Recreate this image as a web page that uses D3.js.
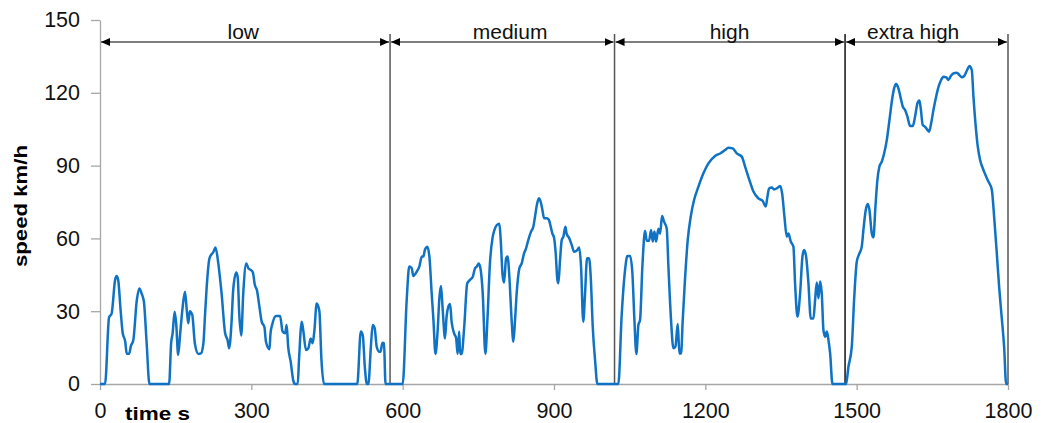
<!DOCTYPE html>
<html>
<head>
<meta charset="utf-8">
<script src="https://cdn.jsdelivr.net/npm/d3@7"></script>
<style>
  html, body { margin: 0; padding: 0; background: #fff; }
  svg { display: block; font-family: "Liberation Sans", Arial, sans-serif; }
</style>
</head>
<body>
<div id="chart"></div>
<script>
// WLTC class 3 speed trace

const timeS = [
    0, 10, 18, 23, 30, 33, 36, 41, 45, 50, 53, 58, 61, 66, 73, 78, 83, 87, 92.5, 98,
    137, 141, 144, 148, 151, 155, 159, 164, 168.5, 172, 175, 178, 183, 188, 195, 200, 205, 208, 211.5, 217,
    225, 229, 234.5, 241, 248, 253, 256, 261, 264, 270, 273, 276, 280, 284, 290, 294, 299, 303, 307, 311,
    316, 320.5, 326, 329, 336, 338, 342, 349, 357, 362, 367, 370, 373, 378, 383, 386.5, 392, 394.5, 400, 403,
    408.4, 413, 417.6, 421.6, 425, 429.5, 434.8, 439, 444, 510, 517, 521, 525, 529, 532, 537, 540.5, 544.5, 548.5, 554,
    556, 560, 563, 566, 600,
    // medium
    608, 613, 618, 621, 628, 633, 638, 641, 644, 649, 653, 657.5, 661, 665, 669, 673, 676, 679, 684, 687,
    690.6, 694, 697, 702, 706, 709, 712, 714, 717, 722, 728, 733.5, 739, 743.5, 747, 751, 754.7, 758.7, 764, 768,
    773, 778, 782, 786.5, 791.7, 794.4, 798, 801, 805, 808, 811.5, 816, 819.5, 822.8, 826, 831.4, 836, 840.6, 844.6, 849,
    854.5, 859, 862.4, 865.7, 870, 873.7, 877, 880.3, 885.6, 890, 893.5, 896.8, 900, 903.4, 906.7, 908.7, 912, 915.3, 918.6, 922.6,
    925, 930.5, 935.1, 939.8, 946, 950, 953.6, 958, 961.6, 965.5, 969.5, 972.8, 976.8, 981.4, 986, 1027.6,
    // high
    1034, 1040.9, 1045.5, 1050.8, 1055.4, 1059.4, 1063.3, 1067.3, 1070.6, 1075.2, 1080.5, 1083.8, 1088.4, 1092.4, 1095.7, 1099, 1102.3, 1107, 1110.3, 1114.2,
    1118.2, 1123.5, 1126.8, 1132, 1136.7, 1140.7, 1145.3, 1148.6, 1151.9, 1155.2, 1159.8, 1165.1, 1171.1, 1177.7, 1186.3, 1196.2, 1206.1, 1219.3, 1229.2, 1239.1,
    1245.7, 1254.3, 1262.3, 1272.2, 1278.8, 1287.4, 1295.3, 1305.2, 1313.8, 1319.8, 1323.1, 1326.4, 1331.7, 1336.3, 1341.6, 1348.2, 1352.2, 1356.8, 1361.4, 1364.7,
    1369.4, 1374.6, 1377.9, 1382.6, 1387.9, 1392.5, 1395.8, 1399.8, 1404.4, 1409, 1414.3, 1417.6, 1420.9, 1424.2, 1427.5, 1430.8, 1434.1, 1437.4, 1440.8, 1444.1,
    1447.4, 1452, 1479,
    // extra high
    1483.6, 1490.3, 1494.9, 1500.2, 1505.5, 1510.1, 1513.4, 1518, 1522, 1525.3, 1530, 1533.2, 1537.2, 1541.1, 1545.1, 1549.7, 1554.4, 1559.7, 1565, 1569.6,
    1574.2, 1578.2, 1582.8, 1587.4, 1591.4, 1596, 1600.6, 1605.9, 1611.2, 1615.8, 1620.5, 1624.4, 1627, 1631, 1635.7, 1640.3, 1643.6, 1647.6, 1652.2, 1657.5,
    1662.1, 1667.4, 1672, 1677.3, 1681.9, 1686.6, 1691.8, 1698.4, 1703.7, 1708.4, 1713, 1718.3, 1723.6, 1728.2, 1731.5, 1736.1, 1740.1, 1744.7, 1750, 1754.6,
    1761.2, 1767.8, 1772.5, 1777.8, 1782.4, 1787.7, 1792.3, 1796.3, 1800
];

const speedKmh = [
    0, 0, 27.5, 29, 43, 44.5, 43, 30, 21, 17.5, 12.5, 12.5, 15.5, 18, 34.6, 39.4, 37, 34, 16.8, 0,
    0, 16.8, 21, 29.8, 25, 12, 21, 32, 38, 30.5, 25, 30, 28.4, 16.8, 12.4, 12.6, 16.8, 27.7, 40, 51.8,
    54.5, 56.3, 49.7, 37.4, 21, 18, 14.7, 26.4, 38.7, 45.9, 44, 29, 20, 37.4, 49.7, 47.7, 47, 46, 40.8, 38.7,
    31.9, 25.7, 23.4, 17.4, 14.3, 20.9, 25, 28, 28, 21.6, 20.9, 24.3, 15.4, 9.2, 1.6, 0, 0, 9.9, 25.7, 22,
    14, 14.7, 18.8, 16.8, 22, 33.2, 30.2, 9.9, 0, 0, 21.6, 20, 7, 0, 0, 15.4, 24.3, 23, 15.4, 13.3,
    13.3, 17, 16.8, 0, 0,
    // medium
    34.6, 48.4, 47.7, 44.5, 46.3, 48.4, 52.5, 52.5, 55.2, 56.6, 52.5, 37.4, 26.4, 12.4, 20.9, 36, 40.4, 31.9, 18.8, 27.7,
    31.9, 33, 25.7, 20.9, 18.8, 12.4, 21.6, 12.4, 12.4, 23.6, 41.5, 42.9, 44.2, 47.7, 48.4, 49.7, 47, 37.4, 12.4, 26.4,
    49.7, 60, 63.5, 65.5, 66, 59.3, 45, 41.8, 51.8, 52.5, 44.2, 26.4, 17.4, 26.4, 37.4, 47.7, 49.7, 53.8, 55.9, 59.3,
    62.8, 64.8, 69, 73.4, 76.5, 75, 71.7, 68.3, 68.3, 67.6, 64.8, 62, 60.4, 53.8, 42.9, 41.5, 51.1, 59.3, 60.7, 64.8,
    62, 60, 57.3, 54.5, 55.2, 56.3, 48.4, 25.7, 37.4, 51.8, 51.8, 44.2, 23.6, 9.9, 0, 0,
    // high
    27.7, 47, 52.7, 52.7, 45.6, 26.4, 12.4, 24.3, 26.4, 48.4, 63.2, 59, 59, 63.5, 58.7, 62.8, 58.7, 64, 62, 69.2,
    66.9, 64.1, 48.4, 26.4, 14.7, 15.4, 24.7, 12.6, 12.6, 26.4, 43.5, 59.3, 69, 75.8, 81.3, 86.8, 90.9, 94, 95, 96.4,
    97.4, 97.1, 95, 93.7, 89.6, 84, 79.3, 76.5, 75.4, 73.1, 77.2, 80.6, 81, 80.2, 80.6, 81.6, 78.6, 69, 60.7, 62,
    58.7, 56.6, 41.5, 27.7, 37.4, 52.5, 55.2, 52.5, 41.5, 27, 27, 34.6, 41.8, 35.3, 42.2, 37.4, 22.3, 19.5, 21.6, 18.1,
    12.6, 0, 0,
    // extra high
    7, 15.4, 34.6, 50.4, 53.8, 56.6, 63.5, 71.7, 74.2, 71.7, 62, 60.4, 73.1, 84.1, 89.6, 91.6, 95, 100.5, 108.8, 116.3,
    121.8, 123.6, 121.8, 117.7, 114.3, 112.9, 110.2, 106.3, 106.3, 110.2, 115.7, 116.8, 113.6, 106.7, 106, 104.7, 104, 107.4, 112.9, 118.4,
    122.3, 125.3, 126.6, 126.4, 125.3, 126.9, 128, 128.3, 127.3, 126.4, 126.9, 129.1, 131, 129.4, 118.4, 106, 97.8, 92.3, 88.9, 86.5,
    83.4, 80.2, 69, 53.8, 40.1, 27, 15.4, 0, 0
];

const phaseNames = ['low', 'medium', 'high', 'extra high'];
const phaseBounds = [0, 575, 1020, 1477, 1800];   // seconds
const phaseLabelAt = [284, 813, 1248, 1612];       // seconds, label centres

const xTicks = [0, 300, 600, 900, 1200, 1500, 1800];
const yTicks = [0, 30, 60, 90, 120, 150];

function drawChart() {
    const width = 1043, height = 423;

    const svg = d3.select('#chart').append('svg')
        .attr('width', width)
        .attr('height', height);

    const x = d3.scaleLinear().domain([0, 1800]).range([100, 1008]);
    const y = d3.scaleLinear().domain([0, 150]).range([384, 20]);

    // arrowhead marker
    svg.append('defs').append('marker')
        .attr('id', 'arrow')
        .attr('markerUnits', 'userSpaceOnUse')
        .attr('viewBox', '0 0 9 8')
        .attr('refX', 9)
        .attr('refY', 4)
        .attr('markerWidth', 9)
        .attr('markerHeight', 8)
        .attr('orient', 'auto-start-reverse')
        .append('path')
        .attr('d', 'M0,0L9,4L0,8Z')
        .attr('fill', '#000');

    // y axis
    const yAxis = svg.append('g')
        .attr('transform', `translate(${x(0)},0)`)
        .call(d3.axisLeft(y).tickValues(yTicks).tickSize(9).tickSizeOuter(0).tickPadding(11));

    // x axis
    const xAxis = svg.append('g')
        .attr('transform', `translate(0,${y(0)})`)
        .call(d3.axisBottom(x).tickValues(xTicks).tickSize(6).tickSizeOuter(0)
            .tickFormat(d3.format('d')));
    xAxis.selectAll('text').attr('dy', null).attr('y', 34);

    [yAxis, xAxis].forEach(a => {
        a.select('.domain').attr('stroke', '#a6a6a6').attr('stroke-width', 1.3);
        a.selectAll('.tick line').attr('stroke', '#a6a6a6').attr('stroke-width', 1.3);
        a.selectAll('.tick text')
            .attr('fill', '#111')
            .style('font-size', '21.5px')
            .style('font-family', '"Liberation Sans", Arial, sans-serif');
    });

    // phase boundaries
    svg.append('g').selectAll('line')
        .data(phaseBounds.slice(1))
        .join('line')
        .attr('x1', d => x(d)).attr('x2', d => x(d))
        .attr('y1', 34).attr('y2', y(0))
        .attr('stroke', (d, i) => i === 2 ? '#111' : '#555')
        .attr('stroke-width', 1.5);

    // phase arrows
    const arrowY = 42;
    svg.append('g').selectAll('line')
        .data(phaseNames)
        .join('line')
        .attr('x1', (d, i) => x(phaseBounds[i]) + 1)
        .attr('x2', (d, i) => x(phaseBounds[i + 1]) - 1)
        .attr('y1', arrowY).attr('y2', arrowY)
        .attr('stroke', '#000')
        .attr('stroke-width', 1.2)
        .attr('marker-start', 'url(#arrow)')
        .attr('marker-end', 'url(#arrow)');

    svg.append('g').selectAll('text')
        .data(phaseNames)
        .join('text')
        .attr('x', (d, i) => x(phaseLabelAt[i]))
        .attr('y', 39)
        .attr('text-anchor', 'middle')
        .attr('fill', '#111')
        .style('font-size', '21px')
        .text(d => d);

    // speed trace
    const points = timeS.map((t, i) => [t, speedKmh[i]]);
    const line = d3.line()
        .x(d => x(d[0]))
        .y(d => y(d[1]))
        .curve(d3.curveMonotoneX);

    svg.append('path')
        .datum(points)
        .attr('d', line)
        .attr('fill', 'none')
        .attr('stroke', '#0f72c3')
        .attr('stroke-width', 2.5)
        .attr('stroke-linejoin', 'round');

    // axis titles
    svg.append('text')
        .attr('transform', 'translate(27,206) rotate(-90)')
        .attr('text-anchor', 'middle')
        .attr('font-weight', 'bold')
        .attr('textLength', 122)
        .attr('lengthAdjust', 'spacingAndGlyphs')
        .style('font-size', '19px')
        .text('speed km/h');

    svg.append('text')
        .attr('x', 125)
        .attr('y', 420)
        .attr('font-weight', 'bold')
        .attr('textLength', 65)
        .attr('lengthAdjust', 'spacingAndGlyphs')
        .style('font-size', '19px')
        .text('time s');
}

window.addEventListener('DOMContentLoaded', drawChart);
</script>
</body>
</html>
